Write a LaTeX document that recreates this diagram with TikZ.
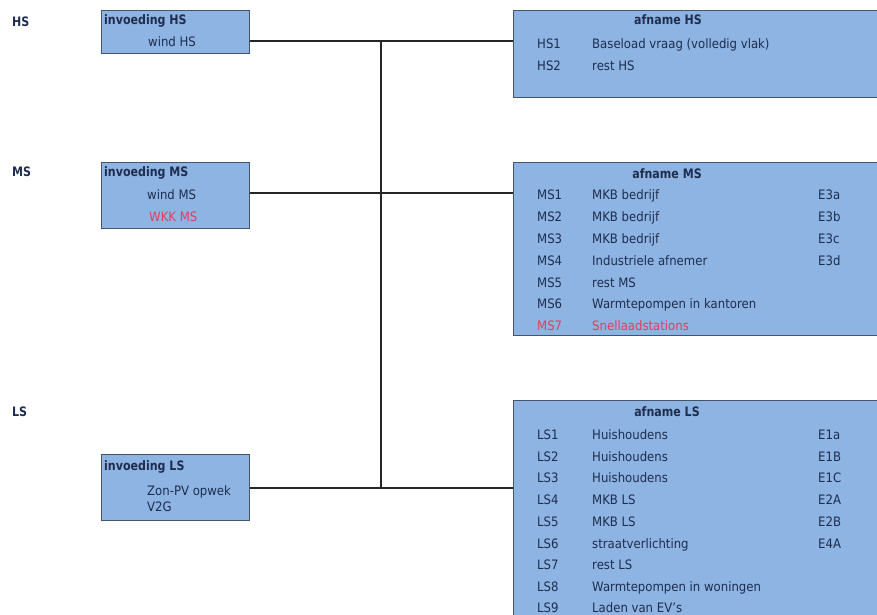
\documentclass[tikz,border=0pt]{standalone}
\usepackage{fontspec}
\setmainfont{DejaVu Sans}[FakeStretch=0.9, BoldFeatures={FakeStretch=0.85}]
\definecolor{boxfill}{HTML}{8DB4E2}
\definecolor{boxline}{HTML}{44546A}
\definecolor{txt}{HTML}{1F2D4F}
\definecolor{redtxt}{HTML}{E63C5C}
\tikzset{
  box/.style={draw=boxline, line width=1.2pt, fill=boxfill, anchor=north west, inner sep=0pt},
  t/.style={anchor=base west, inner sep=0pt, text=txt, font=\fontsize{13}{15}\selectfont},
  tb/.style={t, font=\fontsize{13}{15}\selectfont\bfseries},
  tc/.style={tb, anchor=base},
  rt/.style={t, text=redtxt},
  wire/.style={line width=1.6pt, black!85}
}
\begin{document}
\begin{tikzpicture}[x=1pt,y=-1pt]
\useasboundingbox (0,0) rectangle (877,614);
% level labels
\node[tb] (lHS) at (12,26) {HS};
\node[tb] (lMS) at (12,176) {MS};
\node[tb] (lLS) at (12,416) {LS};
% left boxes
\node[box, minimum width=148pt, minimum height=43pt] (inHS) at (101,10) {};
\node[box, minimum width=148pt, minimum height=66pt] (inMS) at (101,162) {};
\node[box, minimum width=148pt, minimum height=66pt] (inLS) at (101,454) {};
% right boxes
\node[box, minimum width=380pt, minimum height=87pt] (afHS) at (513,10) {};
\node[box, minimum width=380pt, minimum height=173pt] (afMS) at (513,162) {};
\node[box, minimum width=380pt, minimum height=240pt] (afLS) at (513,400) {};
% left texts
\node[tb] (inHSt) at (104,24) {invoeding HS};
\node[t] (inHS1) at (148,46) {wind HS};
\node[tb] (inMSt) at (104,176) {invoeding MS};
\node[t] (inMS1) at (147,199) {wind MS};
\node[rt] (inMS2) at (149,221) {WKK MS};
\node[tb] (inLSt) at (104,470) {invoeding LS};
\node[t] (inLS1) at (147,495) {Zon-PV opwek};
\node[t] (inLS2) at (147,511) {V2G};
% afname HS
\node[tc] (afHSt) at (668,24) {afname HS};
\node[t] (hs1c) at (537,48) {HS1}; \node[t] (hs1d) at (592,48) {Baseload vraag (volledig vlak)};
\node[t] (hs2c) at (537,70) {HS2}; \node[t] (hs2d) at (592,70) {rest HS};
% afname MS
\node[tc] (afMSt) at (667,178) {afname MS};
\node[t] (ms1c) at (537,199) {MS1}; \node[t] (ms1d) at (592,199) {MKB bedrijf}; \node[t] (ms1e) at (818,199) {E3a};
\node[t] (ms2c) at (537,221) {MS2}; \node[t] (ms2d) at (592,221) {MKB bedrijf}; \node[t] (ms2e) at (818,221) {E3b};
\node[t] (ms3c) at (537,243) {MS3}; \node[t] (ms3d) at (592,243) {MKB bedrijf}; \node[t] (ms3e) at (818,243) {E3c};
\node[t] (ms4c) at (537,265) {MS4}; \node[t] (ms4d) at (592,265) {Industriele afnemer}; \node[t] (ms4e) at (818,265) {E3d};
\node[t] (ms5c) at (537,287) {MS5}; \node[t] (ms5d) at (592,287) {rest MS};
\node[t] (ms6c) at (537,308) {MS6}; \node[t] (ms6d) at (592,308) {Warmtepompen in kantoren};
\node[rt] (ms7c) at (537,330) {MS7}; \node[rt] (ms7d) at (592,330) {Snellaadstations};
% afname LS
\node[tc] (afLSt) at (667,416) {afname LS};
\node[t] (ls1c) at (537,439) {LS1}; \node[t] (ls1d) at (592,439) {Huishoudens}; \node[t] (ls1e) at (818,439) {E1a};
\node[t] (ls2c) at (537,461) {LS2}; \node[t] (ls2d) at (592,461) {Huishoudens}; \node[t] (ls2e) at (818,461) {E1B};
\node[t] (ls3c) at (537,482) {LS3}; \node[t] (ls3d) at (592,482) {Huishoudens}; \node[t] (ls3e) at (818,482) {E1C};
\node[t] (ls4c) at (537,504) {LS4}; \node[t] (ls4d) at (592,504) {MKB LS}; \node[t] (ls4e) at (818,504) {E2A};
\node[t] (ls5c) at (537,526) {LS5}; \node[t] (ls5d) at (592,526) {MKB LS}; \node[t] (ls5e) at (818,526) {E2B};
\node[t] (ls6c) at (537,548) {LS6}; \node[t] (ls6d) at (592,548) {straatverlichting}; \node[t] (ls6e) at (818,548) {E4A};
\node[t] (ls7c) at (537,569) {LS7}; \node[t] (ls7d) at (592,569) {rest LS};
\node[t] (ls8c) at (537,591) {LS8}; \node[t] (ls8d) at (592,591) {Warmtepompen in woningen};
\node[t] (ls9c) at (537,612) {LS9}; \node[t] (ls9d) at (592,612) {Laden van EV's};
% connectors
\coordinate (jHS) at (381,41);
\coordinate (jMS) at (381,193);
\coordinate (jLS) at (381,488);
\draw[wire] (inHS.east |- jHS) -- (afHS.west |- jHS);
\draw[wire] (inMS.east |- jMS) -- (afMS.west |- jMS);
\draw[wire] (inLS.east |- jLS) -- (afLS.west |- jLS);
\draw[wire] (jHS) -- (jLS);
\end{tikzpicture}
\end{document}
